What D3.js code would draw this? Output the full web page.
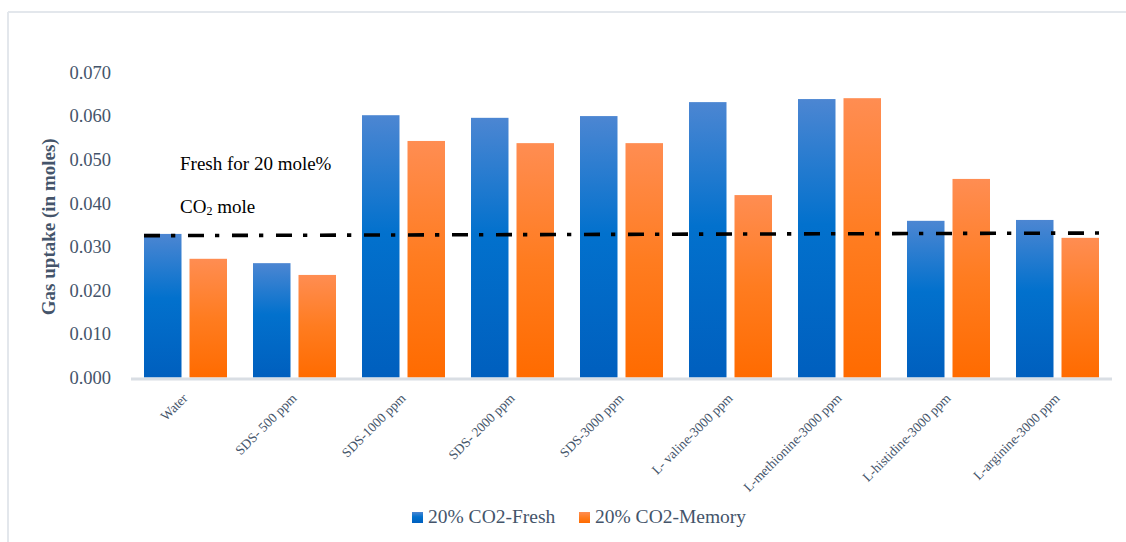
<!DOCTYPE html>
<html>
<head>
<meta charset="utf-8">
<script src="https://cdn.jsdelivr.net/npm/d3@7"></script>
<style>
  html, body { margin: 0; padding: 0; background: #ffffff; }
  svg { display: block; }
  text { font-family: "Palatino Linotype", "Book Antiqua", Palatino, "Liberation Serif", serif; }
</style>
</head>
<body>
<svg id="chart" width="1126" height="542"></svg>
<script>
// Gas uptake per additive, fresh vs memory runs (20% CO2)
const categories = [
  "Water", "SDS- 500 ppm", "SDS-1000 ppm", "SDS- 2000 ppm", "SDS-3000 ppm",
  "L- valine-3000 ppm", "L-methionine-3000 ppm", "L-histidine-3000 ppm", "L-arginine-3000 ppm"
];
const seriesNames = ["20% CO2-Fresh", "20% CO2-Memory"];
const freshValues  = [0.0329, 0.0262, 0.0601, 0.0595, 0.0599, 0.0631, 0.0638, 0.0359, 0.0361];
const memoryValues = [0.0272, 0.0235, 0.0542, 0.0537, 0.0537, 0.0418, 0.0640, 0.0455, 0.0320];
const yTicks = [0, 0.01, 0.02, 0.03, 0.04, 0.05, 0.06, 0.07];
// Fresh water reference level, drawn across the bars (start, end)
const referenceLine = [0.0325, 0.0331];

const seriesValues = [freshValues, memoryValues];
const svg = d3.select("#chart");
const W = 1126, H = 542;
const plot = { left: 131, right: 1112, top: 72, bottom: 377.5 };
const labelColor = "#44546a";

// Frame lines (top and left)
svg.append("line").attr("x1", 8).attr("x2", W).attr("y1", 12).attr("y2", 12)
  .attr("stroke", "#e3e7ec").attr("stroke-width", 2);
svg.append("line").attr("x1", 8).attr("x2", 8).attr("y1", 12).attr("y2", H)
  .attr("stroke", "#e3e7ec").attr("stroke-width", 2);

// Gradients
const defs = svg.append("defs");
const gradients = [
  { id: "gFresh", stops: [["0%", "#4c86d2"], ["45%", "#0271cd"], ["100%", "#005fbe"]] },
  { id: "gMemory", stops: [["0%", "#ff8d52"], ["50%", "#ff7c20"], ["100%", "#ff6b00"]] }
];
gradients.forEach(g => {
  const lg = defs.append("linearGradient").attr("id", g.id)
    .attr("x1", 0).attr("y1", 0).attr("x2", 0).attr("y2", 1);
  g.stops.forEach(s => lg.append("stop").attr("offset", s[0]).attr("stop-color", s[1]));
});

const x0 = d3.scaleBand().domain(categories).range([plot.left, plot.right]).padding(0);
const x1 = d3.scaleBand().domain(seriesNames).range([0, x0.bandwidth()])
  .paddingInner(0.1758).paddingOuter(0.2857);
const y = d3.scaleLinear().domain([0, 0.07]).range([plot.bottom, plot.top]);

// Y tick labels
const yAxis = d3.axisLeft(y).tickValues(yTicks).tickFormat(d3.format(".3f")).tickSize(0).tickPadding(0);
const yg = svg.append("g").attr("transform", `translate(${plot.left - 20},0)`).call(yAxis);
yg.select(".domain").remove();
yg.selectAll("text")
  .attr("fill", labelColor)
  .attr("font-size", "18.5px")
  .attr("dy", "0.33em")
  .style("font-family", '"Palatino Linotype", "Book Antiqua", Palatino, "Liberation Serif", serif');

// Bars
const groups = svg.append("g").selectAll("g")
  .data(categories)
  .join("g")
  .attr("transform", d => `translate(${x0(d)},0)`);

groups.selectAll("rect")
  .data((d, i) => seriesNames.map((s, j) => ({ series: s, value: seriesValues[j][i] })))
  .join("rect")
  .attr("x", d => x1(d.series))
  .attr("width", x1.bandwidth())
  .attr("y", d => y(d.value))
  .attr("height", d => y(0) - y(d.value))
  .attr("fill", d => d.series === seriesNames[0] ? "url(#gFresh)" : "url(#gMemory)");

// Baseline
svg.append("line")
  .attr("x1", plot.left).attr("x2", plot.right)
  .attr("y1", y(0) + 1.5).attr("y2", y(0) + 1.5)
  .attr("stroke", "#d9dee4").attr("stroke-width", 3);

// Reference dash-dot line
const refX = [
  x0(categories[0]) + x1(seriesNames[0]),
  x0(categories[categories.length - 1]) + x1(seriesNames[1]) + x1.bandwidth()
];
svg.append("path")
  .datum(referenceLine.map((v, i) => [refX[i], v]))
  .attr("d", d3.line().x(d => d[0]).y(d => y(d[1])))
  .attr("fill", "none")
  .attr("stroke", "#000")
  .attr("stroke-width", 3.6)
  .attr("stroke-dasharray", "16,11,4.3,12.7");

// Annotation
svg.append("text").attr("x", 180).attr("y", 170)
  .attr("font-size", "19px").attr("fill", "#000")
  .text("Fresh for 20 mole%");
const co2 = svg.append("text").attr("x", 180).attr("y", 213)
  .attr("font-size", "19px").attr("fill", "#000");
co2.append("tspan").text("CO");
co2.append("tspan").attr("font-size", "12px").attr("dy", 2).text("2");
co2.append("tspan").attr("dy", -2).text(" mole");

// X category labels
svg.append("g").selectAll("text")
  .data(categories)
  .join("text")
  .attr("transform", d => `translate(${x0(d) + x0.bandwidth() / 2 + 3},399) rotate(-45)`)
  .attr("text-anchor", "end")
  .attr("font-size", "13.5px")
  .attr("fill", labelColor)
  .text(d => d);

// Y axis title
svg.append("text")
  .attr("transform", `translate(55,${(plot.top + plot.bottom) / 2 + 2}) rotate(-90)`)
  .attr("text-anchor", "middle")
  .attr("font-size", "19px")
  .attr("font-weight", "bold")
  .attr("fill", labelColor)
  .text("Gas uptake (in moles)");

// Legend
const legend = svg.append("g");
const legendX = [412, 579];
seriesNames.forEach((s, i) => {
  legend.append("rect").attr("x", legendX[i]).attr("y", 512).attr("width", 11).attr("height", 11)
    .attr("fill", i === 0 ? "url(#gFresh)" : "url(#gMemory)");
  legend.append("text").attr("x", legendX[i] + 16).attr("y", 523)
    .attr("font-size", "19.5px").attr("fill", labelColor).text(s);
});
</script>
</body>
</html>
